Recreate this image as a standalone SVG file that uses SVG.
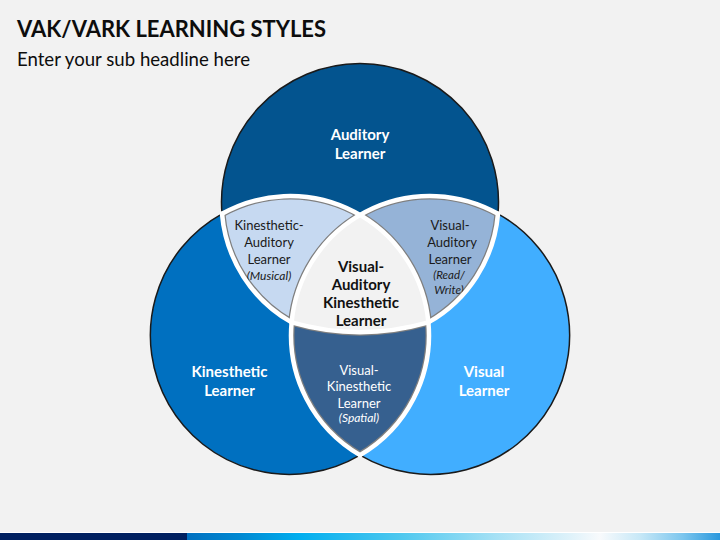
<svg xmlns="http://www.w3.org/2000/svg" width="720" height="540" viewBox="0 0 720 540">
<defs>
<style>
.t{font-family:Lato,"Open Sans","Liberation Sans",sans-serif;text-anchor:middle}
.wb{font-weight:bold;font-size:15px;fill:#ffffff}
.db{font-weight:bold;font-size:15px;fill:#111111}
.dr{font-size:13px;fill:#1a1a1a}
.wr{font-size:13px;fill:#ffffff}
.it{font-style:italic;font-size:12px}
.its{font-style:italic;font-size:11.5px}
.gap{fill:none;stroke:#ffffff;stroke-width:4.5;stroke-linecap:round}
.outline{fill:none;stroke:#1a1a1a;stroke-width:1.5}
</style>
<clipPath id="cKA"><path d="M222 213.8 A139 139 0 0 1 360 214.9 A139 139 0 0 0 291.6 322.4 A138.5 138.5 0 0 1 222 213.8 Z"/></clipPath>
<clipPath id="cVA"><path d="M498 213.8 A139 139 0 0 0 360 214.9 A139 139 0 0 1 428.4 322.4 A138.5 138.5 0 0 0 498 213.8 Z"/></clipPath>
<clipPath id="cVK"><path d="M291.6 322.4 A248.5 248.5 0 0 0 428.4 322.4 A139 139 0 0 1 360 455.1 A139 139 0 0 1 291.6 322.4 Z"/></clipPath>
<linearGradient id="bar" x1="187" y1="0" x2="720" y2="0" gradientUnits="userSpaceOnUse">
<stop offset="0" stop-color="#0070c0"/>
<stop offset="0.1" stop-color="#0089d2"/>
<stop offset="0.21" stop-color="#00aeef"/>
<stop offset="0.4" stop-color="#4ec8ef"/>
<stop offset="0.58" stop-color="#a6e1f5"/>
<stop offset="0.72" stop-color="#dff2fa"/>
<stop offset="0.775" stop-color="#f8fafc"/>
<stop offset="0.85" stop-color="#c7e8f7"/>
<stop offset="0.93" stop-color="#7cc6ee"/>
<stop offset="1" stop-color="#2a98dd"/>
</linearGradient>
</defs>
<rect x="0" y="0" width="720" height="540" fill="#f2f2f2"/>
<g id="header">
<text x="17" y="36.5" font-family="Lato,'Open Sans','Liberation Sans',sans-serif" font-weight="bold" font-size="23" fill="#0d0d0d" textLength="309" lengthAdjust="spacingAndGlyphs">VAK/VARK LEARNING STYLES</text>
<text x="17" y="65.5" font-family="Lato,'Open Sans','Liberation Sans',sans-serif" font-size="19.5" fill="#0d0d0d" textLength="233" lengthAdjust="spacingAndGlyphs">Enter your sub headline here</text>
</g>
<g id="auditory">
<path d="M222 213.8 A138.5 138.5 0 1 1 498 213.8 A139 139 0 0 0 360 214.9 A139 139 0 0 0 222 213.8 Z" fill="#03548f"/>
<text class="t wb" x="360" y="139.5">Auditory</text>
<text class="t wb" x="360" y="158.5">Learner</text>
</g>
<g id="kinesthetic">
<path d="M222 213.8 A139 139 0 1 0 360 455.1 A139 139 0 0 1 291.6 322.4 A138.5 138.5 0 0 1 222 213.8 Z" fill="#0070c0"/>
<text class="t wb" x="229.5" y="377.3">Kinesthetic</text>
<text class="t wb" x="229.5" y="396">Learner</text>
</g>
<g id="visual">
<path d="M498 213.8 A139 139 0 1 1 360 455.1 A139 139 0 0 0 428.4 322.4 A138.5 138.5 0 0 0 498 213.8 Z" fill="#41aeff"/>
<text class="t wb" x="484" y="377.3">Visual</text>
<text class="t wb" x="484" y="396">Learner</text>
</g>
<g id="kinesthetic-auditory">
<path d="M222 213.8 A139 139 0 0 1 360 214.9 A139 139 0 0 0 291.6 322.4 A138.5 138.5 0 0 1 222 213.8 Z" fill="#c6d9f1" stroke="#7f7f7f" stroke-width="7" clip-path="url(#cKA)"/>
<text class="t dr" x="269" y="230">Kinesthetic-</text>
<text class="t dr" x="269" y="247">Auditory</text>
<text class="t dr" x="269" y="264">Learner</text>
<text class="t dr it" x="269" y="279.5">(Musical)</text>
</g>
<g id="visual-auditory">
<path d="M498 213.8 A139 139 0 0 0 360 214.9 A139 139 0 0 1 428.4 322.4 A138.5 138.5 0 0 0 498 213.8 Z" fill="#95b3d7" stroke="#7f7f7f" stroke-width="7" clip-path="url(#cVA)"/>
<text class="t dr" x="450" y="230">Visual-</text>
<text class="t dr" x="452" y="247">Auditory</text>
<text class="t dr" x="450" y="264">Learner</text>
<text class="t dr its" x="449" y="279">(Read/</text>
<text class="t dr its" x="449" y="293.5">Write)</text>
</g>
<g id="visual-kinesthetic">
<path d="M291.6 322.4 A248.5 248.5 0 0 0 428.4 322.4 A139 139 0 0 1 360 455.1 A139 139 0 0 1 291.6 322.4 Z" fill="#36608f" stroke="#7f7f7f" stroke-width="7" clip-path="url(#cVK)"/>
<text class="t wr" x="359" y="374.5">Visual-</text>
<text class="t wr" x="359" y="391.3">Kinesthetic</text>
<text class="t wr" x="359" y="407.8">Learner</text>
<text class="t wr it" x="359" y="421.5">(Spatial)</text>
</g>
<g id="visual-auditory-kinesthetic">
<path d="M360 214.9 A139 139 0 0 1 428.4 322.4 A248.5 248.5 0 0 1 291.6 322.4 A139 139 0 0 1 360 214.9 Z" fill="#f2f2f2"/>
<text class="t db" x="361" y="271.5">Visual-</text>
<text class="t db" x="361" y="289.5">Auditory</text>
<text class="t db" x="361" y="308">Kinesthetic</text>
<text class="t db" x="361" y="326">Learner</text>
</g>
<g id="connectors">
<path class="outline" d="M222 213.8 A138.5 138.5 0 1 1 498 213.8 A139 139 0 1 1 360 455.1 A139 139 0 1 1 222 213.8"/>
<path class="gap" d="M222 213.8 A139 139 0 0 1 428.4 322.4 A139 139 0 0 1 360 455.1"/>
<path class="gap" d="M498 213.8 A139 139 0 0 0 291.6 322.4 A139 139 0 0 0 360 455.1"/>
<path class="gap" d="M222 213.8 A138.5 138.5 0 0 0 291.6 322.4"/>
<path class="gap" d="M498 213.8 A138.5 138.5 0 0 1 428.4 322.4"/>
<path class="gap" d="M291.6 322.4 A248.5 248.5 0 0 0 428.4 322.4"/>
</g>
<g id="footer">
<rect x="0" y="532" width="720" height="1" fill="#ffffff"/>
<rect x="0" y="533" width="187" height="7" fill="#002060"/>
<rect x="187" y="533" width="533" height="7" fill="url(#bar)"/>
</g>
</svg>
